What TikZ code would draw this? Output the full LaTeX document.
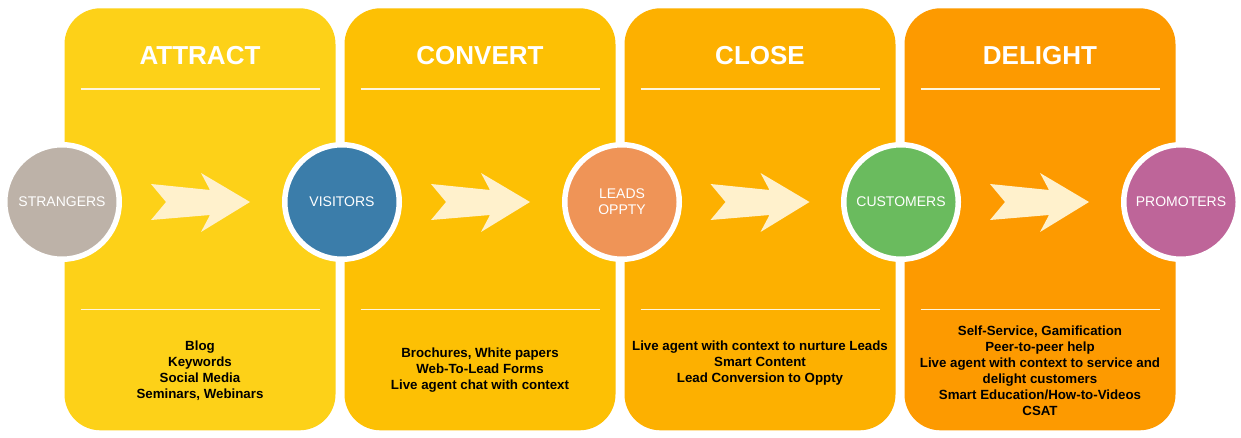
\documentclass[tikz,border=0pt]{standalone}
\usepackage{fontspec}
\setmainfont{Liberation Sans}
\usetikzlibrary{calc}
\definecolor{cAttract}{RGB}{253,209,24}
\definecolor{cConvert}{RGB}{253,192,4}
\definecolor{cClose}{RGB}{253,176,0}
\definecolor{cDelight}{RGB}{253,154,0}
\definecolor{cStr}{RGB}{189,178,168}
\definecolor{cVis}{RGB}{59,125,170}
\definecolor{cLead}{RGB}{239,148,87}
\definecolor{cCust}{RGB}{106,187,94}
\definecolor{cProm}{RGB}{190,101,153}
\definecolor{arrowc}{RGB}{255,241,204}
\definecolor{rulec}{RGB}{255,246,220}
\begin{document}
\begin{tikzpicture}[x=1pt,y=-1pt,
 panel/.style={rounded corners=36pt, minimum width=271pt, minimum height=422pt, anchor=north west, inner sep=0pt, outer sep=0pt},
 title/.style={text=white, font=\bfseries\fontsize{26}{30}\selectfont, anchor=base},
 rulel/.style={draw=rulec, line width=1.6pt},
 stage/.style={circle, draw=white, line width=5.5pt, minimum size=114.5pt, inner sep=0pt, text=white, font=\fontsize{14}{16}\selectfont, align=center},
 items/.style={font=\bfseries\fontsize{13.3}{16}\selectfont, align=center, text=black},
 chevron/.pic={\fill[arrowc] (-51,-18) -- (8,-12) -- (-1,-29) -- (48,0) -- (-1,30) -- (8,13) -- (-51,18) -- (-36,0) -- cycle;}]
\fill[white] (0,0) rectangle (1241,438);
\useasboundingbox (0,0) rectangle (1241,438);
% panels
\node[panel, fill=cAttract] (pa) at (64.5,8.3) {};
\node[panel, fill=cConvert] (pc) at (344.5,8.3) {};
\node[panel, fill=cClose] (pl) at (624.5,8.3) {};
\node[panel, fill=cDelight] (pd) at (904.5,8.3) {};
% titles and rules
\foreach \p/\t in {pa/ATTRACT, pc/CONVERT, pl/CLOSE, pd/DELIGHT}{
  \node[title] (t\p) at ($(\p.north)+(0,56)$) {\t};
  \draw[rulel] ($(\p.north west)+(16,81)$) -- ($(\p.north east)+(-16,81)$);
  \draw[rulel] ($(\p.north west)+(16,301)$) -- ($(\p.north east)+(-16,301)$);
}
% items
\node[items] (ia) at ($(pa.north)+(0,362)$) {Blog\\Keywords\\Social Media\\Seminars, Webinars};
\node[items] (ic) at ($(pc.north)+(0,362)$) {Brochures, White papers\\Web-To-Lead Forms\\Live agent chat with context};
\node[items] (il) at ($(pl.north)+(0,355)$) {Live agent with context to nurture Leads\\Smart Content\\Lead Conversion to Oppty};
\node[items] (id) at ($(pd.north)+(0,362)$) {Self-Service, Gamification\\Peer-to-peer help\\Live agent with context to service and\\delight customers\\Smart Education/How-to-Videos\\CSAT};
% stages
\node[stage, fill=cStr] (s) at (62,202) {STRANGERS};
\node[stage, fill=cVis] (v) at (342,202) {VISITORS};
\node[stage, fill=cLead] (l) at (622,202) {LEADS\\OPPTY};
\node[stage, fill=cCust] (c) at (901,202) {CUSTOMERS};
\node[stage, fill=cProm] (p) at (1181,202) {PROMOTERS};
% arrows
\pic at ($(s)!0.5!(v)$) {chevron};
\pic at ($(v)!0.5!(l)$) {chevron};
\pic at ($(l)!0.5!(c)$) {chevron};
\pic at ($(c)!0.5!(p)$) {chevron};
\end{tikzpicture}
\end{document}
